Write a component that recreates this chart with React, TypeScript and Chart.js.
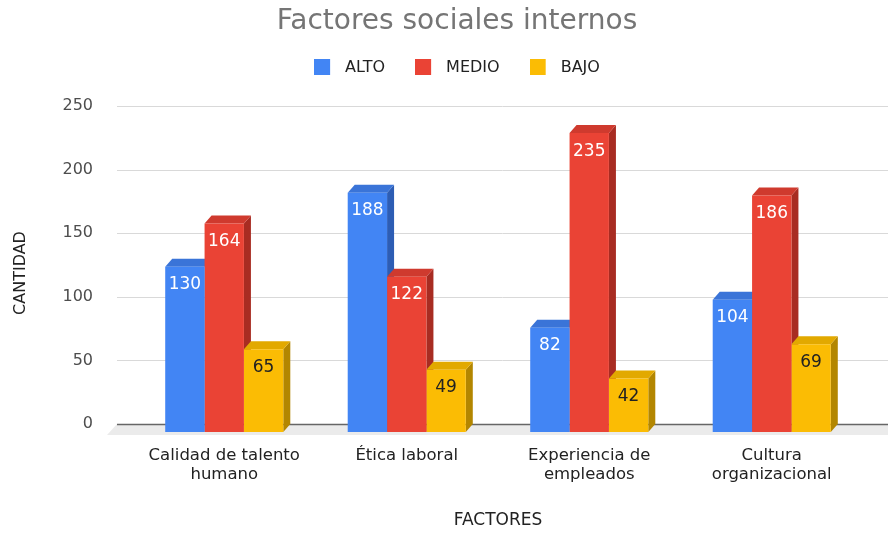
import React, { useEffect, useRef } from 'react';
import { Chart, registerables } from 'chart.js';

Chart.register(...registerables);

// ---- data ----
const categories: (string | string[])[] = [
  ['Calidad de talento', 'humano'],
  'Ética laboral',
  ['Experiencia de', 'empleados'],
  ['Cultura', 'organizacional'],
];
const seriesNames = ['ALTO', 'MEDIO', 'BAJO'];
const alto = [130, 188, 82, 104];
const medio = [164, 122, 235, 186];
const bajo = [65, 49, 42, 69];
const yTickValues = [0, 50, 100, 150, 200, 250];

// ---- style ----
const frontColors = ['#4285F4', '#EA4335', '#FBBC04'];
const sideColors = ['#2d5db4', '#a82c22', '#b38600'];
const topColors = ['#3a74d8', '#cf3a2e', '#e2a900'];
const labelColors = ['#ffffff', '#ffffff', '#222222'];
const DX = 7;
const DY = 8;
const FONT = '"DejaVu Sans", sans-serif';

function legendSwatch(color: string) {
  const c = document.createElement('canvas');
  c.width = 23;
  c.height = 16;
  const g = c.getContext('2d')!;
  g.fillStyle = color;
  g.fillRect(0, 0, 16, 16);
  return c;
}

const threeD = {
  id: 'threeD',
  beforeDatasetsDraw(chart: any) {
    const { ctx, chartArea, scales } = chart;
    const y = scales.y;
    const left = chartArea.left - 16;
    const right = chart.width;
    const y0 = y.getPixelForValue(0);
    ctx.save();
    // floor
    ctx.fillStyle = '#ebebeb';
    ctx.beginPath();
    ctx.moveTo(left, y0 - DY);
    ctx.lineTo(right, y0 - DY);
    ctx.lineTo(right, y0 + 3);
    ctx.lineTo(left - DX - 3, y0 + 3);
    ctx.closePath();
    ctx.fill();
    // grid lines on back wall
    y.ticks.forEach((t: any) => {
      const py = Math.round(y.getPixelForValue(t.value) - DY) + 0.5;
      ctx.beginPath();
      ctx.moveTo(left, py);
      ctx.lineTo(right, py);
      if (t.value === 0) {
        ctx.strokeStyle = '#666666';
        ctx.lineWidth = 1.5;
      } else {
        ctx.strokeStyle = '#d9d9d9';
        ctx.lineWidth = 1;
      }
      ctx.stroke();
    });
    // side and top faces, left to right
    const n = chart.data.labels.length;
    const metas = chart.data.datasets.map((_: any, d: number) => chart.getDatasetMeta(d));
    for (let i = 0; i < n; i++) {
      metas.forEach((meta: any, d: number) => {
        const el = meta.data[i];
        if (!el) return;
        const { x, y: top, base, width } = el.getProps(['x', 'y', 'base', 'width'], true);
        const xl = x - width / 2;
        const xr = x + width / 2;
        ctx.fillStyle = sideColors[d];
        ctx.beginPath();
        ctx.moveTo(xr, top);
        ctx.lineTo(xr + DX, top - DY);
        ctx.lineTo(xr + DX, base - DY);
        ctx.lineTo(xr, base);
        ctx.closePath();
        ctx.fill();
        ctx.fillStyle = topColors[d];
        ctx.beginPath();
        ctx.moveTo(xl, top);
        ctx.lineTo(xl + DX, top - DY);
        ctx.lineTo(xr + DX, top - DY);
        ctx.lineTo(xr, top);
        ctx.closePath();
        ctx.fill();
      });
    }
    ctx.restore();
  },
  afterDatasetsDraw(chart: any) {
    const { ctx } = chart;
    ctx.save();
    ctx.font = `17px ${FONT}`;
    ctx.textAlign = 'center';
    ctx.textBaseline = 'middle';
    chart.data.datasets.forEach((ds: any, d: number) => {
      const meta = chart.getDatasetMeta(d);
      meta.data.forEach((el: any, i: number) => {
        const { x, y: top } = el.getProps(['x', 'y'], true);
        ctx.fillStyle = labelColors[d];
        ctx.fillText(String(ds.data[i]), x, top + 18);
      });
    });
    ctx.restore();
  },
};

export default function App() {
  const ref = useRef<HTMLCanvasElement>(null);

  useEffect(() => {
    if (!ref.current) return;
    Chart.defaults.font.family = FONT;
    const swatches = frontColors.map(legendSwatch);
    const series = [alto, medio, bajo];
    const chart = new Chart(ref.current, {
      type: 'bar',
      data: {
        labels: categories,
        datasets: series.map((data, d) => ({
          label: seriesNames[d],
          data,
          backgroundColor: frontColors[d],
          borderWidth: 0,
          categoryPercentage: 0.647,
          barPercentage: 1,
        })),
      },
      options: {
        responsive: false,
        animation: false,
        layout: { padding: { left: 51, right: 25, top: 0, bottom: 0 } },
        plugins: {
          tooltip: { enabled: false },
          title: {
            display: true,
            text: 'Factores sociales internos',
            color: '#757575',
            font: { size: 28, weight: 'normal', family: FONT },
            padding: { top: 5, bottom: -9.2 },
          },
          legend: {
            display: true,
            position: 'top',
            labels: {
              usePointStyle: true,
              pointStyleWidth: 23,
              boxHeight: 16,
              padding: 30,
              color: '#222222',
              font: { size: 16, family: FONT },
              generateLabels: (c: any) =>
                Chart.defaults.plugins.legend.labels
                  .generateLabels(c)
                  .map((item: any) => ({ ...item, pointStyle: swatches[item.datasetIndex] })),
            },
          },
          subtitle: {
            display: true,
            text: '',
            weight: 500,
            padding: 0,
            font: { size: 22, lineHeight: 1.3 },
          } as any,
        },
        scales: {
          x: {
            grid: { display: false, drawTicks: false },
            border: { display: false },
            ticks: {
              padding: 14,
              color: '#222222',
              autoSkip: false,
              maxRotation: 0,
              font: { size: 16.5, lineHeight: 19 / 16.5, family: FONT },
            },
            title: {
              display: true,
              text: 'FACTORES',
              color: '#222222',
              font: { size: 17, family: FONT },
              padding: { top: 0, bottom: 1.8 },
            },
            afterFit: (s: any) => {
              s.height = 101;
            },
          },
          y: {
            min: 0,
            max: 250,
            afterBuildTicks: (s: any) => {
              s.ticks = yTickValues.map((v) => ({ value: v }));
            },
            grid: { display: false, drawTicks: false },
            border: { display: false },
            ticks: {
              padding: 40,
              labelOffset: -DY,
              color: '#4d4d4d',
              font: { size: 16, family: FONT },
            },
            title: {
              display: true,
              text: 'CANTIDAD',
              color: '#222222',
              font: { size: 16, family: FONT },
              padding: { top: -39.6, bottom: 0 },
            },
            afterFit: (s: any) => {
              s.width = 82;
            },
          },
        },
      },
      plugins: [threeD],
    } as any);
    return () => chart.destroy();
  }, []);

  return (
    <div style={{ position: 'fixed', left: 0, top: 0, width: 888, height: 533, background: '#fff' }}>
      <canvas ref={ref} width={888} height={533} style={{ display: 'block' }} />
    </div>
  );
}
